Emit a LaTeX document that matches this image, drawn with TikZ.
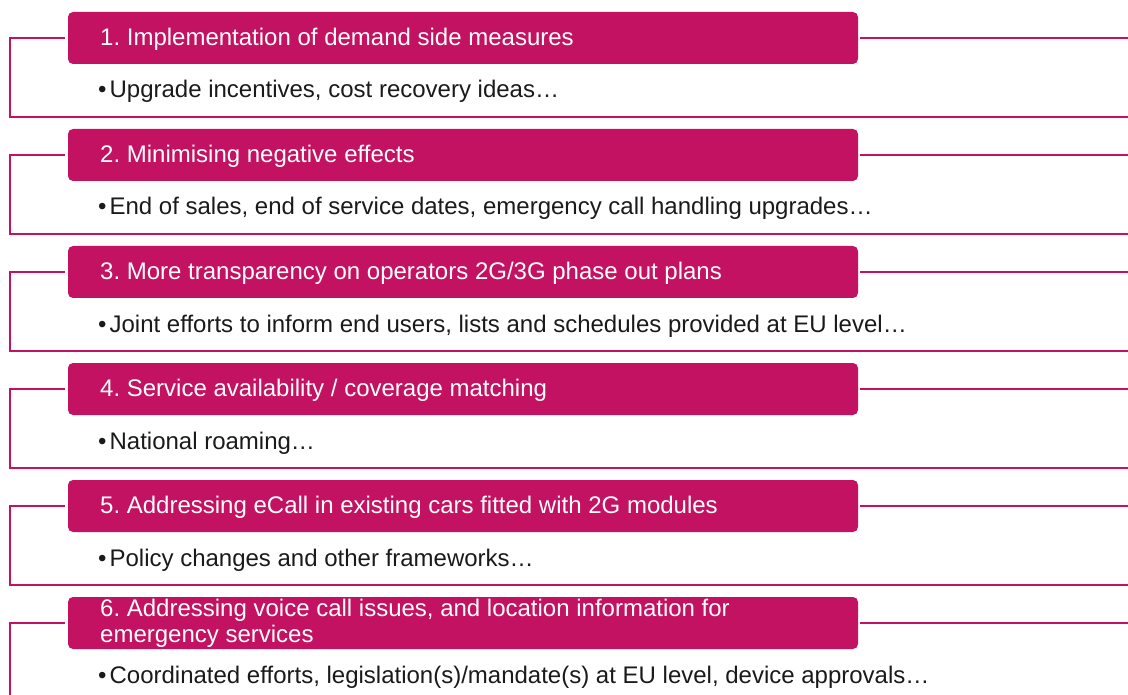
\documentclass[tikz,border=0pt]{standalone}
\usepackage{fontspec}
\setmainfont{Liberation Sans}
\frenchspacing
\definecolor{mag}{RGB}{196,18,98}
\definecolor{txt}{RGB}{26,26,26}
\tikzset{
  hdr/.style={fill=mag, rounded corners=5pt, draw=none},
  hdrtext/.style={anchor=west, text=white, inner sep=0pt, align=left, font=\fontsize{24}{26}\selectfont},
  bodytext/.style={anchor=base west, text=txt, inner sep=0pt, font=\fontsize{24}{26}\selectfont},
  frame/.style={draw=mag, line width=2pt}
}
\begin{document}
\begin{tikzpicture}[x=1pt,y=-1pt]
\useasboundingbox (0,0) rectangle (1128,695);
\foreach \i/\h/\b in {
 0/{1. Implementation of demand side measures}/{Upgrade incentives, cost recovery ideas…},
 1/{2. Minimising negative effects}/{End of sales, end of service dates, emergency call handling upgrades…},
 2/{3. More transparency on operators 2G/3G phase out plans}/{Joint efforts to inform end users, lists and schedules provided at EU level…},
 3/{4. Service availability / coverage matching}/{National roaming…},
 4/{5. Addressing eCall in existing cars fitted with 2G modules}/{Policy changes and other frameworks…}}{
  \pgfmathsetmacro{\y}{12+117*\i}
  \fill[hdr] (68,\y) rectangle (858,\y+52);
  \node[hdrtext] (h\i) at (100,\y+27) {\h};
  \node[bodytext] (b\i) at (98,\y+86) {•\hspace{3pt}\b};
  \draw[frame] (65,\y+26) -- (10,\y+26) -- (10,\y+105) -- (1128,\y+105);
  \draw[frame] (860,\y+26) -- (1128,\y+26);
}
\fill[hdr] (68,597) rectangle (858,649);
\node[hdrtext] (h5) at (100,623) {6. Addressing voice call issues, and location information for\\emergency services};
\node[bodytext] (b5) at (98,683) {•\hspace{3pt}Coordinated efforts, legislation(s)/mandate(s) at EU level, device approvals…};
\draw[frame] (65,623) -- (10,623) -- (10,695);
\draw[frame] (860,623) -- (1128,623);
\end{tikzpicture}
\end{document}
